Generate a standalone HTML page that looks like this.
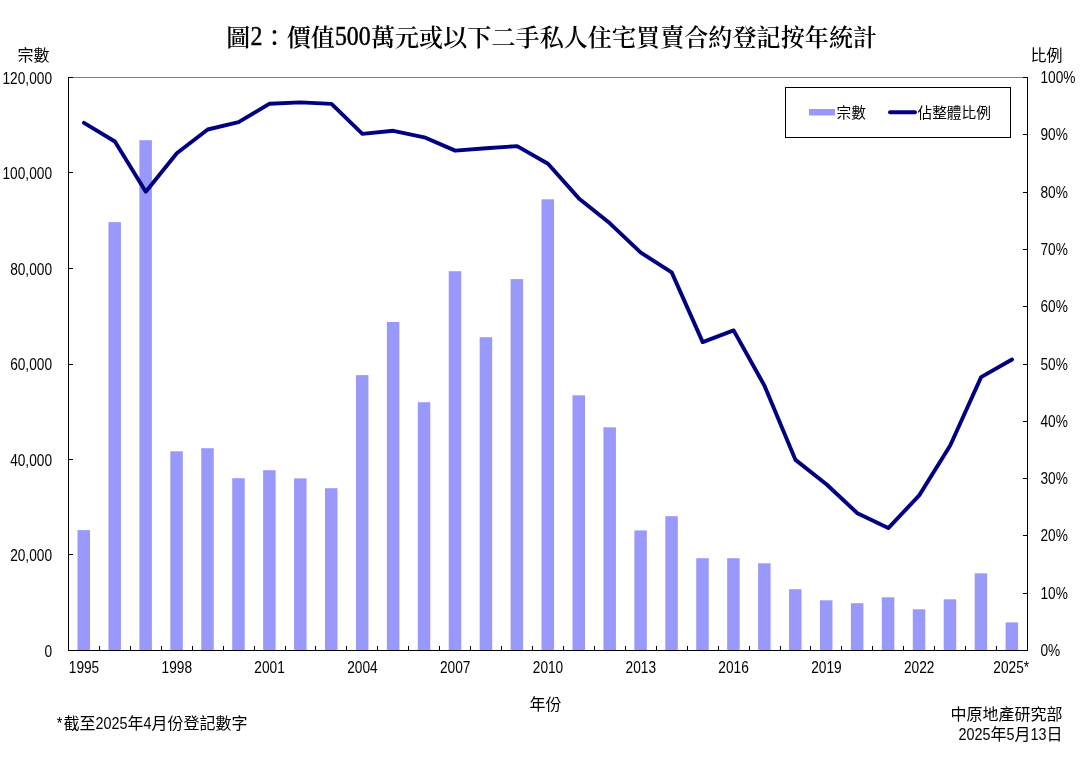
<!DOCTYPE html>
<html lang="zh-Hant"><head><meta charset="utf-8"><title>圖2：價值500萬元或以下二手私人住宅買賣合約登記按年統計</title>
<style>html,body{margin:0;padding:0;background:#fff}svg{display:block}.n{font-family:'Liberation Sans','Noto Sans CJK TC','Noto Sans CJK SC',sans-serif;font-size:16.5px;fill:#000}.c{font-family:'Liberation Sans','Noto Sans CJK TC','Noto Sans CJK SC',sans-serif;font-weight:400;fill:#000}.t{font-family:'Liberation Serif','Noto Serif CJK TC','Noto Serif CJK SC',serif;font-weight:600;font-size:24px;fill:#000}.td{font-family:'Liberation Serif','Noto Serif CJK TC','Noto Serif CJK SC',serif;font-weight:400;font-size:26.5px;fill:#000;stroke:#000;stroke-width:0.5px}</style></head><body>
<svg width="1082" height="757" viewBox="0 0 1082 757">
<rect x="0" y="0" width="1082" height="757" fill="#ffffff"/>
<text class="t" x="226.3" y="45.5" textLength="24.1" lengthAdjust="spacing">圖</text>
<text class="td" text-anchor="middle" transform="translate(256.4,45.0) scale(0.9,1)">2</text>
<text class="t" x="262.5" y="45.5" textLength="72.3" lengthAdjust="spacing">：價值</text>
<text class="td" text-anchor="middle" transform="translate(352.8,45.0) scale(0.9,1)">500</text>
<text class="t" x="370.9" y="45.5" textLength="506.1" lengthAdjust="spacing">萬元或以下二手私人住宅買賣合約登記按年統計</text>
<rect x="68.5" y="77.5" width="959.0" height="573.0" fill="#ffffff" stroke="#808080" stroke-width="1"/>
<g fill="#9999fb">
<rect x="77.52" y="530.1" width="12.5" height="119.9"/>
<rect x="108.45" y="222.1" width="12.5" height="427.9"/>
<rect x="139.39" y="140.2" width="12.5" height="509.8"/>
<rect x="170.32" y="451.3" width="12.5" height="198.7"/>
<rect x="201.26" y="448.2" width="12.5" height="201.8"/>
<rect x="232.20" y="478.2" width="12.5" height="171.8"/>
<rect x="263.13" y="470.2" width="12.5" height="179.8"/>
<rect x="294.07" y="478.4" width="12.5" height="171.6"/>
<rect x="325.00" y="488.2" width="12.5" height="161.8"/>
<rect x="355.94" y="375.1" width="12.5" height="274.9"/>
<rect x="386.87" y="322.0" width="12.5" height="328.0"/>
<rect x="417.81" y="402.2" width="12.5" height="247.8"/>
<rect x="448.74" y="271.2" width="12.5" height="378.8"/>
<rect x="479.68" y="337.2" width="12.5" height="312.8"/>
<rect x="510.61" y="279.1" width="12.5" height="370.9"/>
<rect x="541.55" y="199.3" width="12.5" height="450.7"/>
<rect x="572.49" y="395.3" width="12.5" height="254.7"/>
<rect x="603.42" y="427.3" width="12.5" height="222.7"/>
<rect x="634.36" y="530.4" width="12.5" height="119.6"/>
<rect x="665.29" y="516.2" width="12.5" height="133.8"/>
<rect x="696.23" y="558.2" width="12.5" height="91.8"/>
<rect x="727.16" y="558.2" width="12.5" height="91.8"/>
<rect x="758.10" y="563.3" width="12.5" height="86.7"/>
<rect x="789.03" y="589.2" width="12.5" height="60.8"/>
<rect x="819.97" y="600.3" width="12.5" height="49.7"/>
<rect x="850.90" y="603.2" width="12.5" height="46.8"/>
<rect x="881.84" y="597.3" width="12.5" height="52.7"/>
<rect x="912.78" y="609.3" width="12.5" height="40.7"/>
<rect x="943.71" y="599.3" width="12.5" height="50.7"/>
<rect x="974.65" y="573.3" width="12.5" height="76.7"/>
<rect x="1005.58" y="622.4" width="12.5" height="27.6"/>
</g>
<g stroke="#000" stroke-width="1" fill="none" shape-rendering="crispEdges">
<line x1="68.5" y1="77.0" x2="68.5" y2="651.0"/>
<line x1="1027.5" y1="77.0" x2="1027.5" y2="651.0"/>
<line x1="68.0" y1="650.5" x2="1028.0" y2="650.5"/>
<line x1="68.5" y1="77.5" x2="73.0" y2="77.5"/>
<line x1="68.5" y1="172.5" x2="73.0" y2="172.5"/>
<line x1="68.5" y1="268.5" x2="73.0" y2="268.5"/>
<line x1="68.5" y1="364.5" x2="73.0" y2="364.5"/>
<line x1="68.5" y1="459.5" x2="73.0" y2="459.5"/>
<line x1="68.5" y1="554.5" x2="73.0" y2="554.5"/>
<line x1="68.5" y1="650.5" x2="73.0" y2="650.5"/>
<line x1="1023.0" y1="77.5" x2="1027.5" y2="77.5"/>
<line x1="1023.0" y1="134.5" x2="1027.5" y2="134.5"/>
<line x1="1023.0" y1="192.5" x2="1027.5" y2="192.5"/>
<line x1="1023.0" y1="249.5" x2="1027.5" y2="249.5"/>
<line x1="1023.0" y1="306.5" x2="1027.5" y2="306.5"/>
<line x1="1023.0" y1="364.5" x2="1027.5" y2="364.5"/>
<line x1="1023.0" y1="421.5" x2="1027.5" y2="421.5"/>
<line x1="1023.0" y1="478.5" x2="1027.5" y2="478.5"/>
<line x1="1023.0" y1="535.5" x2="1027.5" y2="535.5"/>
<line x1="1023.0" y1="593.5" x2="1027.5" y2="593.5"/>
<line x1="1023.0" y1="650.5" x2="1027.5" y2="650.5"/>
<line x1="68.5" y1="645.5" x2="68.5" y2="650.5"/>
<line x1="99.5" y1="645.5" x2="99.5" y2="650.5"/>
<line x1="130.5" y1="645.5" x2="130.5" y2="650.5"/>
<line x1="161.5" y1="645.5" x2="161.5" y2="650.5"/>
<line x1="192.5" y1="645.5" x2="192.5" y2="650.5"/>
<line x1="223.5" y1="645.5" x2="223.5" y2="650.5"/>
<line x1="254.5" y1="645.5" x2="254.5" y2="650.5"/>
<line x1="285.5" y1="645.5" x2="285.5" y2="650.5"/>
<line x1="315.5" y1="645.5" x2="315.5" y2="650.5"/>
<line x1="346.5" y1="645.5" x2="346.5" y2="650.5"/>
<line x1="377.5" y1="645.5" x2="377.5" y2="650.5"/>
<line x1="408.5" y1="645.5" x2="408.5" y2="650.5"/>
<line x1="439.5" y1="645.5" x2="439.5" y2="650.5"/>
<line x1="470.5" y1="645.5" x2="470.5" y2="650.5"/>
<line x1="501.5" y1="645.5" x2="501.5" y2="650.5"/>
<line x1="532.5" y1="645.5" x2="532.5" y2="650.5"/>
<line x1="563.5" y1="645.5" x2="563.5" y2="650.5"/>
<line x1="594.5" y1="645.5" x2="594.5" y2="650.5"/>
<line x1="625.5" y1="645.5" x2="625.5" y2="650.5"/>
<line x1="656.5" y1="645.5" x2="656.5" y2="650.5"/>
<line x1="687.5" y1="645.5" x2="687.5" y2="650.5"/>
<line x1="718.5" y1="645.5" x2="718.5" y2="650.5"/>
<line x1="749.5" y1="645.5" x2="749.5" y2="650.5"/>
<line x1="780.5" y1="645.5" x2="780.5" y2="650.5"/>
<line x1="810.5" y1="645.5" x2="810.5" y2="650.5"/>
<line x1="841.5" y1="645.5" x2="841.5" y2="650.5"/>
<line x1="872.5" y1="645.5" x2="872.5" y2="650.5"/>
<line x1="903.5" y1="645.5" x2="903.5" y2="650.5"/>
<line x1="934.5" y1="645.5" x2="934.5" y2="650.5"/>
<line x1="965.5" y1="645.5" x2="965.5" y2="650.5"/>
<line x1="996.5" y1="645.5" x2="996.5" y2="650.5"/>
<line x1="1027.5" y1="645.5" x2="1027.5" y2="650.5"/>
</g>
<polyline points="84.0,122.8 114.9,141.5 145.8,191.7 176.8,153.3 207.7,129.5 238.6,122.2 269.6,103.7 300.5,102.4 331.5,103.9 362.4,133.9 393.3,130.8 424.3,137.3 455.2,150.6 486.1,148.2 517.1,146.1 548.0,163.7 578.9,198.4 609.9,223.3 640.8,252.6 671.7,272.4 702.7,342.1 733.6,330.4 764.5,385.7 795.5,459.9 826.4,484.3 857.4,513.2 888.3,528.1 919.2,495.4 950.2,445.5 981.1,377.1 1012.0,359.5" fill="none" stroke="#000080" stroke-width="3.9" stroke-linejoin="round" stroke-linecap="round"/>
<rect x="785.5" y="87.5" width="225" height="50" fill="#fff" stroke="#000" stroke-width="1" shape-rendering="crispEdges"/>
<rect x="809" y="109" width="26" height="6.5" fill="#9999fb"/>
<line x1="890" y1="112.2" x2="915" y2="112.2" stroke="#000080" stroke-width="3.9" stroke-linecap="round"/>
<text class="c" font-size="14.67" x="836.5" y="117.5">宗數</text>
<text class="c" font-size="14.67" x="917.5" y="117.5">佔整體比例</text>
<text class="n" text-anchor="end" transform="translate(52,83.5) scale(0.83,1)">120,000</text>
<text class="n" text-anchor="end" transform="translate(52,179.0) scale(0.83,1)">100,000</text>
<text class="n" text-anchor="end" transform="translate(52,274.5) scale(0.83,1)">80,000</text>
<text class="n" text-anchor="end" transform="translate(52,370.0) scale(0.83,1)">60,000</text>
<text class="n" text-anchor="end" transform="translate(52,465.5) scale(0.83,1)">40,000</text>
<text class="n" text-anchor="end" transform="translate(52,561.0) scale(0.83,1)">20,000</text>
<text class="n" text-anchor="end" transform="translate(52,656.5) scale(0.83,1)">0</text>
<text class="n" transform="translate(1040.5,83.0) scale(0.83,1)">100%</text>
<text class="n" transform="translate(1040.5,140.3) scale(0.83,1)">90%</text>
<text class="n" transform="translate(1040.5,197.6) scale(0.83,1)">80%</text>
<text class="n" transform="translate(1040.5,254.9) scale(0.83,1)">70%</text>
<text class="n" transform="translate(1040.5,312.2) scale(0.83,1)">60%</text>
<text class="n" transform="translate(1040.5,369.5) scale(0.83,1)">50%</text>
<text class="n" transform="translate(1040.5,426.8) scale(0.83,1)">40%</text>
<text class="n" transform="translate(1040.5,484.1) scale(0.83,1)">30%</text>
<text class="n" transform="translate(1040.5,541.4) scale(0.83,1)">20%</text>
<text class="n" transform="translate(1040.5,598.7) scale(0.83,1)">10%</text>
<text class="n" transform="translate(1040.5,656.0) scale(0.83,1)">0%</text>
<text class="n" text-anchor="middle" transform="translate(84.0,673) scale(0.83,1)">1995</text>
<text class="n" text-anchor="middle" transform="translate(176.8,673) scale(0.83,1)">1998</text>
<text class="n" text-anchor="middle" transform="translate(269.6,673) scale(0.83,1)">2001</text>
<text class="n" text-anchor="middle" transform="translate(362.4,673) scale(0.83,1)">2004</text>
<text class="n" text-anchor="middle" transform="translate(455.2,673) scale(0.83,1)">2007</text>
<text class="n" text-anchor="middle" transform="translate(548.0,673) scale(0.83,1)">2010</text>
<text class="n" text-anchor="middle" transform="translate(640.8,673) scale(0.83,1)">2013</text>
<text class="n" text-anchor="middle" transform="translate(733.6,673) scale(0.83,1)">2016</text>
<text class="n" text-anchor="middle" transform="translate(826.4,673) scale(0.83,1)">2019</text>
<text class="n" text-anchor="middle" transform="translate(919.2,673) scale(0.83,1)">2022</text>
<text class="n" text-anchor="middle" transform="translate(1011.2,673) scale(0.83,1)">2025*</text>
<text class="c" font-size="16" x="17.5" y="60.5">宗數</text>
<text class="c" font-size="16" x="1030.5" y="60.5">比例</text>
<text class="c" font-size="16" x="529.5" y="709.5">年份</text>
<text class="n" style="font-size:17.00px" text-anchor="middle" transform="translate(59.50,728.5) scale(0.846,1)">*</text>
<text class="c" font-size="16.0" x="63.50" y="728.5">截至</text>
<text class="n" style="font-size:17.00px" text-anchor="middle" transform="translate(111.50,728.5) scale(0.846,1)">2025</text>
<text class="c" font-size="16.0" x="127.50" y="728.5">年</text>
<text class="n" style="font-size:17.00px" text-anchor="middle" transform="translate(147.50,728.5) scale(0.846,1)">4</text>
<text class="c" font-size="16.0" x="151.50" y="728.5">月份登記數字</text>
<text class="c" font-size="16" text-anchor="end" x="1062.5" y="719.5">中原地產研究部</text>
<text class="n" style="font-size:17.00px" text-anchor="middle" transform="translate(974.50,740) scale(0.846,1)">2025</text>
<text class="c" font-size="16.0" x="990.50" y="740">年</text>
<text class="n" style="font-size:17.00px" text-anchor="middle" transform="translate(1010.50,740) scale(0.846,1)">5</text>
<text class="c" font-size="16.0" x="1014.50" y="740">月</text>
<text class="n" style="font-size:17.00px" text-anchor="middle" transform="translate(1038.50,740) scale(0.846,1)">13</text>
<text class="c" font-size="16.0" x="1046.50" y="740">日</text>
</svg></body></html>
